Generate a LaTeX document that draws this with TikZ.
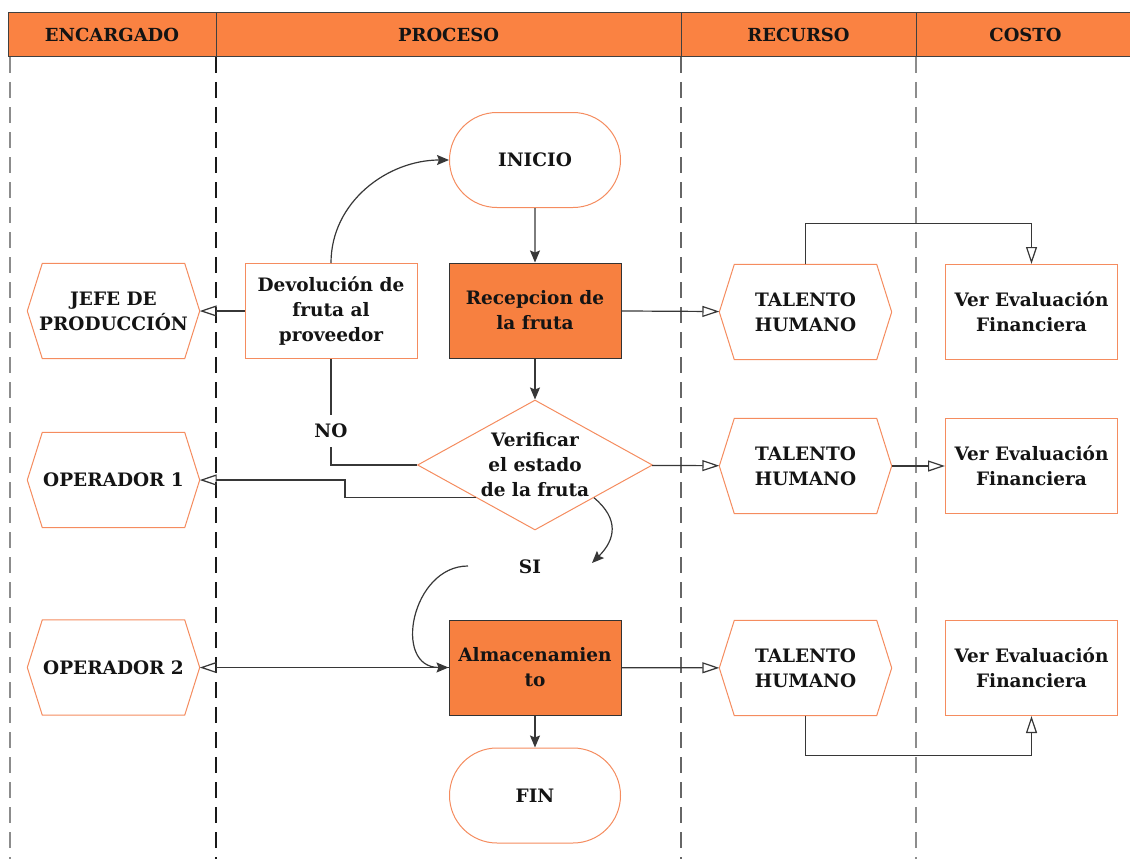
\documentclass[tikz,border=0pt]{standalone}
\usepackage{fontspec}
\setmainfont{DejaVu Serif}
\usetikzlibrary{shapes.geometric,shapes.misc,arrows.meta,calc}
\definecolor{hdrorange}{RGB}{250,130,66}
\definecolor{boxorange}{RGB}{247,128,64}
\definecolor{edgeorange}{RGB}{245,140,95}
\definecolor{linegray}{RGB}{55,55,55}

\begin{document}
\begin{tikzpicture}[x=1pt,y=-1pt,
  every node/.style={font=\fontsize{18.5}{25}\selectfont\bfseries, align=center, inner sep=0pt, text=black!92},
  hdrcell/.style={draw=black!75, fill=hdrorange, line width=1pt, minimum height=44pt, font=\fontsize{18}{25}\selectfont\bfseries},
  lane/.style={dash pattern=on 16pt off 9pt, line width=1.3pt},
  terminal/.style={rounded rectangle, draw=edgeorange, fill=white, line width=1pt, minimum width=171pt, minimum height=95pt},
  taskbox/.style={rectangle, draw=black!80, fill=boxorange, line width=1pt, minimum width=172pt, minimum height=95pt},
  plainbox/.style={rectangle, draw=edgeorange, fill=white, line width=1pt, minimum width=172pt, minimum height=95pt},
  hexnode/.style={rectangle, fill=white, minimum width=172pt, minimum height=95pt},
  hexline/.style={draw=edgeorange, line width=1pt},
  decision/.style={diamond, draw=edgeorange, fill=white, line width=1pt, minimum width=235pt, minimum height=130pt},
  conn/.style={draw=linegray, line width=1.2pt},
  toopen/.style={conn, -{Triangle[open, length=17pt, width=11pt]}},
  tofill/.style={conn, -{Stealth[length=12pt, width=10pt, inset=2pt]}},
]
\useasboundingbox (0,0) rectangle (1130,859);

% swimlane headers
\node[hdrcell, minimum width=208pt] (hA) at (112,35) {ENCARGADO};
\node[hdrcell, minimum width=465pt] (hB) at (448.5,35) {PROCESO};
\node[hdrcell, minimum width=235pt] (hC) at (798.5,35) {RECURSO};
\node[hdrcell, minimum width=219pt] (hD) at (1025.5,35) {COSTO};

% lane dividers
\draw[lane, black!45] (10,57) -- (10,859);
\draw[lane, black!90] (216,57) -- (216,859);
\draw[lane, black!60] (681,57) -- (681,859);
\draw[lane, black!45] (916,57) -- (916,859);

% process column
\node[terminal] (ini) at (535,160) {INICIO};
\node[taskbox] (rec) at (535,310.5) {Recepcion de\\la fruta};
\node[decision, label={center:{Verificar\\el estado\\de la fruta}}] (dia) at (535,465) {};
\node[taskbox] (alm) at (535,667.5) {Almacenamien\\to};
\node[terminal] (fin) at (535,795.5) {FIN};
\node[plainbox] (dev) at (331,311) {Devolución de\\fruta al\\proveedor};

% responsible column
\node[hexnode] (jefe) at (113.5,311) {JEFE DE\\PRODUCCIÓN};
\node[hexnode] (op1) at (113.5,480) {OPERADOR 1};
\node[hexnode] (op2) at (113.5,667.5) {OPERADOR 2};

% resource column
\node[hexnode] (tal1) at (805.5,312) {TALENTO\\HUMANO};
\node[hexnode] (tal2) at (805.5,466) {TALENTO\\HUMANO};
\node[hexnode] (tal3) at (805.5,668) {TALENTO\\HUMANO};

% cost column
\node[plainbox] (ver1) at (1031.5,312) {Ver Evaluación\\Financiera};
\node[plainbox] (ver2) at (1031.5,466) {Ver Evaluación\\Financiera};
\node[plainbox] (ver3) at (1031.5,668) {Ver Evaluación\\Financiera};

% hexagon outlines around the hexagonal nodes
\foreach \h in {jefe,op1,op2,tal1,tal2,tal3}{
  \draw[hexline] (\h.west) -- ([xshift=15pt]\h.north west) -- ([xshift=-15pt]\h.north east)
    -- (\h.east) -- ([xshift=-15pt]\h.south east) -- ([xshift=15pt]\h.south west) -- cycle;
}

% decision labels and curve ends
\node[inner ysep=9pt] (no) at (331,431) {NO};
\node (si) at (530,567) {SI};
\coordinate (sitip) at (592,563);
\coordinate (sitail) at (468,566);

% main flow
\draw[tofill] (ini) -- (rec);
\draw[tofill] (rec) -- (dia);
\draw[tofill] (alm) -- (fin);
\draw[tofill] (dev.north) to[out=90,in=180] (ini.west);
\draw[tofill] (dia.south east) to[out=-40,in=45,looseness=1.3] (sitip);
\draw[tofill] (sitail) to[out=180,in=180,looseness=1.4] (alm.west);
\draw[conn] (dia.west) -| (no.south);
\draw[conn] (no.north) -- (dev.south);

% links to responsibles
\draw[toopen] (dev) -- (jefe);
\draw[toopen] (dia.south west) -- ++(-131,0) |- (op1.east);
\draw[toopen] (alm) -- (op2);

% links to resources and costs
\draw[toopen] (rec) -- (tal1);
\draw[toopen] (dia) -- (tal2);
\draw[toopen] (alm) -- (tal3);
\draw[toopen] (tal1.north) -- ++(0,-41) -| (ver1.north);
\draw[toopen] (tal2) -- (ver2);
\draw[toopen] (tal3.south) -- ++(0,40) -| (ver3.south);
\end{tikzpicture}
\end{document}
